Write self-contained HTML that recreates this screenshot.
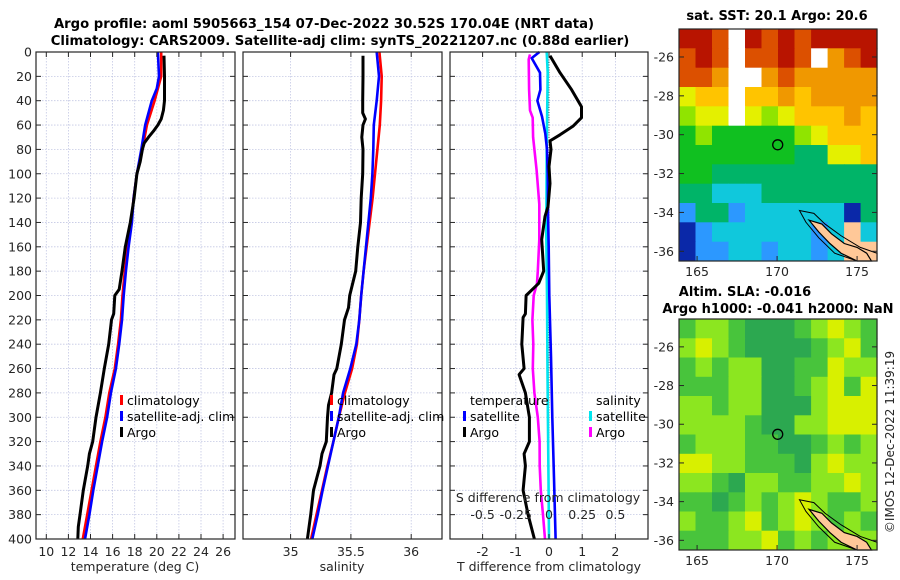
<!DOCTYPE html>
<html><head><meta charset="utf-8">
<style>
html,body{margin:0;padding:0;background:#fff;}
svg{display:block;font-family:"DejaVu Sans","Liberation Sans",sans-serif;}
</style></head>
<body>
<svg id="fig" width="900" height="580" viewBox="0 0 900 580" xmlns="http://www.w3.org/2000/svg">
<text x="324" y="28" font-size="13.2" font-weight="bold" text-anchor="middle" fill="#000">Argo profile: aoml 5905663_154 07-Dec-2022 30.52S 170.04E (NRT data)</text>
<text x="340" y="45" font-size="13.2" font-weight="bold" text-anchor="middle" fill="#000">Climatology: CARS2009. Satellite-adj clim: synTS_20221207.nc (0.88d earlier)</text>
<text x="777" y="20" font-size="13" font-weight="bold" text-anchor="middle">sat. SST: 20.1 Argo: 20.6</text>
<text x="745" y="296" font-size="13" font-weight="bold" text-anchor="middle">Altim. SLA: -0.016</text>
<text x="778" y="313" font-size="13" font-weight="bold" text-anchor="middle">Argo h1000: -0.041 h2000: NaN</text>
<text transform="translate(894,442) rotate(-90)" font-size="12" text-anchor="middle" fill="#262626">©IMOS 12-Dec-2022 11:39:19</text>
<text x="135" y="571" font-size="12.5" text-anchor="middle" fill="#262626">temperature (deg C)</text>
<text x="342" y="571" font-size="12.5" text-anchor="middle" fill="#262626">salinity</text>
<text x="549" y="571" font-size="12.5" text-anchor="middle" fill="#262626">T difference from climatology</text>
</svg>
<script>
// ---------- profile data ----------
const depthTicks=[0,20,40,60,80,100,120,140,160,180,200,220,240,260,280,300,320,340,360,380,400];
const tTicks=[10,12,14,16,18,20,22,24,26];
const sTicks=[35,35.5,36];
const sTickLabels=["35","35.5","36"];
const dtTicks=[-2,-1,0,1,2];
const dsTicks=[-0.5,-0.25,0,0.25,0.5];
const dsTickLabels=["-0.5","-0.25","0","0.25","0.5"];

const climTDepth=[0,20,40,60,80,100,120,140,160,180,200,220,240,260,280,300,320,340,360,380,400];
const climT=[20.4,20.4,19.8,19.1,18.7,18.2,17.9,17.7,17.35,17.1,16.9,16.75,16.5,16.2,15.7,15.35,14.9,14.5,14.1,13.7,13.3];
const satTDepth=[0,20,30,40,60,80,100,120,140,160,180,200,220,240,260,280,300,320,340,360,380,400];
const satT=[20.1,20.2,20.0,19.55,18.95,18.6,18.2,17.9,17.75,17.45,17.2,17.0,16.85,16.6,16.3,15.85,15.5,15.05,14.65,14.25,13.9,13.5];
const argoTDepth=[3,20,40,48,55,60,65,70,75,80,90,100,120,140,160,180,195,200,215,220,240,260,280,300,320,330,340,360,380,390,400];
const argoT=[20.65,20.7,20.7,20.6,20.4,20.1,19.7,19.25,18.85,18.7,18.5,18.2,17.95,17.6,17.15,16.85,16.6,16.2,16.1,15.9,15.65,15.25,14.9,14.5,14.2,13.9,13.75,13.35,13.05,12.9,12.85];

const climSDepth=[0,20,40,60,80,100,120,140,160,180,200,220,240,260,280,300,320,340,360,380,400];
const climS=[35.736,35.755,35.75,35.74,35.72,35.70,35.68,35.655,35.63,35.605,35.585,35.57,35.55,35.51,35.45,35.40,35.355,35.305,35.26,35.215,35.17];
const satSDepth=[0,20,40,60,80,100,120,140,160,180,200,220,240,260,280,300,320,340,360,380,400];
const satS=[35.714,35.733,35.714,35.69,35.686,35.678,35.665,35.645,35.625,35.605,35.585,35.57,35.545,35.495,35.435,35.40,35.355,35.31,35.265,35.225,35.18];
const argoSDepth=[3,20,40,50,55,60,70,80,100,120,140,160,180,200,210,220,240,260,265,280,290,300,320,330,340,360,380,400];
const argoS=[35.60,35.60,35.598,35.598,35.62,35.60,35.59,35.60,35.598,35.585,35.58,35.557,35.54,35.49,35.48,35.447,35.42,35.383,35.36,35.34,35.314,35.306,35.296,35.26,35.244,35.19,35.167,35.139];

const dArgoTDepth=[3,17,31,45,54,61,68,73,80,94,108,127,135,154,180,190,200,215,218,240,260,265,280,300,320,330,340,360,380,400];
const dArgoT=[0.03,0.33,0.68,0.98,0.98,0.72,0.33,0.03,0.06,0,0.03,-0.03,-0.12,-0.22,-0.16,-0.31,-0.69,-0.71,-0.78,-0.82,-0.75,-0.9,-0.71,-0.59,-0.59,-0.75,-0.71,-0.78,-0.63,-0.44];
const dSatTDepth=[0,5,17,31,40,53,67,80,100,130,160,200,250,300,350,400];
const dSatT=[-0.29,-0.52,-0.27,-0.26,-0.35,-0.21,-0.11,-0.06,-0.04,-0.03,-0.01,0.01,0.06,0.1,0.15,0.2];
const dSatSDepth=[0,17,80,150,200,250,300,350,400];
const dSatS=[-0.017,-0.01,-0.017,-0.02,-0.015,-0.012,-0.008,-0.004,0.0];
const dArgoSDepth=[2,6,31,48,54,70,97,125,154,180,190,200,220,240,260,280,300,320,340,360,380,400];
const dArgoS=[-0.143,-0.153,-0.15,-0.143,-0.123,-0.12,-0.093,-0.073,-0.073,-0.084,-0.09,-0.115,-0.125,-0.118,-0.122,-0.11,-0.084,-0.071,-0.07,-0.062,-0.045,-0.03];

// ---------- map data ----------
const mapLonTicks=[165,170,175];
const mapLatTicks=[-26,-28,-30,-32,-34,-36];
const floatLon=170.04, floatLat=-30.52;
const landLon=[172.0,172.8,173.4,174.2,175.0,175.6,175.9,175.0,174.0,173.3,172.6];
const landLat=[-34.4,-34.6,-35.1,-35.6,-35.8,-36.1,-36.5,-36.5,-36.1,-35.6,-35.0];
const shelfLon=[171.4,172.3,173.0,174.0,175.2,176.25,176.25,175.0,173.6,172.6,171.8];
const shelfLat=[-33.9,-34.05,-34.6,-35.2,-35.8,-36.1,-36.5,-36.5,-36.1,-35.3,-34.5];
const sstRows=[
"RROWRORORRRR",
"OROWOOROWoOR",
"OOoWWoOooooo",
"yYYWYYoYoooo",
"GyyWyGyYYYoY",
"gGgggggGyYYY",
"gggggggttyyY",
"ggtttttttttt",
"ttcccttttttt",
"bttbccccccdt",
"dbccccccbcLc",
"dbbccbccbcLL"];
const slaRows=[
"gllgDDDglylg",
"lylgDDDDglyg",
"glgllDDggyll",
"gggllDDglygy",
"llgllDDDlyyy",
"llllgDDllyyy",
"glllggDDglgl",
"yyllgggDlyll",
"llgDllggllyl",
"ggDglglylggl",
"lgglyglylgLg",
"gggllyglgLLL"];
</script>
<script>
const NS="http://www.w3.org/2000/svg";
const svg=document.getElementById('fig');
function el(tag,attrs,parent){const e=document.createElementNS(NS,tag);for(const k in attrs)e.setAttribute(k,attrs[k]);(parent||svg).appendChild(e);return e;}
const Y0=52, PXM=1.2175, YB=52+400*PXM;
const yD=d=>Y0+d*PXM;
const xT=t=>46.3+(t-10)*11.05;
const xS=s=>290.6+(s-35)*120.6;
const xDT=v=>549+v*33.2;
const xDS=v=>549+v*132.8;
const panels=[{l:36,r:235,name:'temperature'},{l:243,r:442,name:'salinity'},{l:450,r:648,name:'difference'}];

function grid(p,xs){
  const g=el('g',{});
  
  
  xs.forEach(x=>el('line',{x1:x,x2:x,y1:Y0,y2:YB,stroke:'#c4c8e4','stroke-width':0.8,'stroke-dasharray':'1.5,1.5'},g));
  depthTicks.forEach(d=>el('line',{x1:p.l,x2:p.r,y1:yD(d),y2:yD(d),stroke:'#c4c8e4','stroke-width':0.8,'stroke-dasharray':'1.5,1.5'},g));
}
function frame(p,xs){
  const g=el('g',{});
  
  
  el('rect',{x:p.l,y:Y0,width:p.r-p.l,height:YB-Y0,fill:'none',stroke:'#262626','stroke-width':1.2},g);
  depthTicks.forEach(d=>{el('line',{x1:p.l,x2:p.l+5,y1:yD(d),y2:yD(d),stroke:'#262626'},g);el('line',{x1:p.r-5,x2:p.r,y1:yD(d),y2:yD(d),stroke:'#262626'},g);});
  xs.forEach(x=>{el('line',{x1:x,x2:x,y1:YB,y2:YB-5,stroke:'#262626'},g);el('line',{x1:x,x2:x,y1:Y0,y2:Y0+5,stroke:'#262626'},g);});
}
function line(xs,ds,fx,color,name,w){
  const pts=xs.map((v,i)=>fx(v).toFixed(1)+','+yD(ds[i]).toFixed(1)).join(' ');
  const e=el('polyline',{points:pts,fill:'none',stroke:color,'stroke-width':w||2.6,'stroke-linejoin':'round'});
  
  
}
function txt(x,y,s,opt){const e=el('text',Object.assign({x:x,y:y,'font-size':12.5,fill:'#262626'},opt||{}));e.textContent=s;return e;}

// panel 1
grid(panels[0],tTicks.map(xT));
line(climT,climTDepth,xT,'#ff0000','climatology-temperature-line');
line(satT,satTDepth,xT,'#0000ff','satellite-temperature-line');
line(argoT,argoTDepth,xT,'#000000','argo-temperature-line',3);
frame(panels[0],tTicks.map(xT));
depthTicks.forEach(d=>{const t=txt(32,yD(d)+4.5,String(d),{'text-anchor':'end'});

});
tTicks.forEach(v=>{const t=txt(xT(v),556,String(v),{'text-anchor':'middle'});

});

// panel 2
grid(panels[1],sTicks.map(xS));
line(climS,climSDepth,xS,'#ff0000','climatology-salinity-line');
line(satS,satSDepth,xS,'#0000ff','satellite-salinity-line');
line(argoS,argoSDepth,xS,'#000000','argo-salinity-line',3);
frame(panels[1],sTicks.map(xS));
sTicks.forEach((v,i)=>{const t=txt(xS(v),556,sTickLabels[i],{'text-anchor':'middle'});

});

// panel 3
grid(panels[2],dtTicks.map(xDT));
const zl=el('line',{x1:xDT(0),x2:xDT(0),y1:Y0,y2:YB,stroke:'#555','stroke-width':1,'stroke-dasharray':'1,1.5'});


line(dArgoS,dArgoSDepth,xDS,'#ff00ff','argo-salinity-difference-line');
line(dSatS,dSatSDepth,xDS,'#00e5ee','satellite-salinity-difference-line');
line(dSatT,dSatTDepth,xDT,'#0000ff','satellite-temperature-difference-line');
line(dArgoT,dArgoTDepth,xDT,'#000000','argo-temperature-difference-line',3);
frame(panels[2],dtTicks.map(xDT));
dtTicks.forEach(v=>{const t=txt(xDT(v),556,String(v),{'text-anchor':'middle'});

});
const st=txt(548,502,'S difference from climatology',{'text-anchor':'middle'});


dsTicks.forEach((v,i)=>{const t=txt(xDS(v),519,dsTickLabels[i],{'text-anchor':'middle'});

});

// legends
function legendEntry(x,y,color,label){
  const g=el('g',{});
  
  
  el('rect',{x:x,y:y-10,width:3,height:10,fill:color},g);
  const t=el('text',{x:x+7,y:y,'font-size':12.5,fill:'#000'},g);t.textContent=label;
}
legendEntry(120,405,'#ff0000','climatology');
legendEntry(120,421,'#0000ff','satellite-adj. clim');
legendEntry(120,437,'#000000','Argo');
legendEntry(330,405,'#ff0000','climatology');
legendEntry(330,421,'#0000ff','satellite-adj. clim');
legendEntry(330,437,'#000000','Argo');
const lt1=txt(470,405,'temperature',{fill:'#000'});


legendEntry(463,421,'#0000ff','satellite');
legendEntry(463,437,'#000000','Argo');
const lt2=txt(596,405,'salinity',{fill:'#000'});


legendEntry(589,421,'#00e5ee','satellite');
legendEntry(589,437,'#ff00ff','Argo');

// ---------- maps ----------
const sstPal={W:'#ffffff',R:'#b81400',O:'#dc5000',o:'#f09800',Y:'#ffc400',y:'#e4f000',G:'#90e400',g:'#10c020',t:'#00b468',c:'#10c8dc',b:'#2c98ff',d:'#0a28a8',L:'#ffc898'};
const slaPal={D:'#2ca850',g:'#48c43c',l:'#8ce620',y:'#d8f000',L:'#8ce620'};
const LON0=163.87,LON1=176.25,LAT0=-24.56,LAT1=-36.5;
function drawMap(top,bottom,rows,pal,name){
  const lonX=lon=>679+(lon-LON0)*16;
  const latY=lat=>top+(LAT0-lat)*(bottom-top)/(LAT0-LAT1);
  const g=el('g',{});
  
  
  const nr=rows.length, dlat=(LAT0-LAT1)/nr;
  rows.forEach((row,r)=>{
    const nc=12, dlon=(LON1-LON0)/nc;
    for(let c=0;c<nc;c++){
      const x0=lonX(LON0+c*dlon),x1=lonX(LON0+(c+1)*dlon);
      const y0=latY(LAT0-r*dlat),y1=latY(LAT0-(r+1)*dlat);
      const cell=el('rect',{x:x0.toFixed(1),y:y0.toFixed(1),width:(x1-x0+0.5).toFixed(1),height:(y1-y0+0.5).toFixed(1),fill:pal[row[c]]||'#fff'},g);
      
      
    }
  });
  const shelf=el('polygon',{points:shelfLon.map((l,i)=>lonX(l)+','+latY(shelfLat[i])).join(' '),fill:'none',stroke:'#000','stroke-width':1},g);
  
  
  const land=el('polygon',{points:landLon.map((l,i)=>lonX(l)+','+latY(landLat[i])).join(' '),fill:'#ffc898',stroke:'#000','stroke-width':1.2},g);
  
  
  const fc=el('circle',{cx:lonX(floatLon),cy:latY(floatLat),r:5,fill:'none',stroke:'#000','stroke-width':1.3},g);
  
  
  el('rect',{x:679,y:top,width:198,height:bottom-top,fill:'none',stroke:'#262626','stroke-width':1.2},g);
  mapLatTicks.forEach(l=>{const y=latY(l);el('line',{x1:679,x2:684,y1:y,y2:y,stroke:'#262626'},g);el('line',{x1:872,x2:877,y1:y,y2:y,stroke:'#262626'},g);
    const t=el('text',{x:674,y:y+4.5,'font-size':12.5,'text-anchor':'end',fill:'#262626'},g);t.textContent=String(l);
    
    });
  mapLonTicks.forEach(l=>{const x=lonX(l);el('line',{x1:x,x2:x,y1:bottom,y2:bottom-5,stroke:'#262626'},g);
    const t=el('text',{x:x,y:bottom+15,'font-size':12.5,'text-anchor':'middle',fill:'#262626'},g);t.textContent=String(l);
    
    });
}
drawMap(29,261,sstRows,sstPal,'sst-map');
drawMap(319,550,slaRows,slaPal,'sla-map');
</script>
</body></html>
